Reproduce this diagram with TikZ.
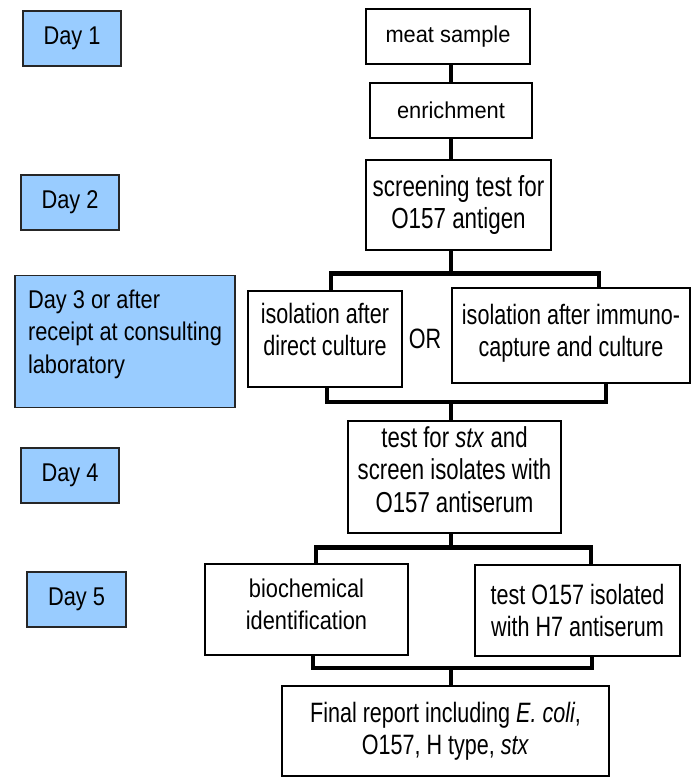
\documentclass[tikz,border=0pt]{standalone}
\usepackage{fontspec}
\setmainfont[FakeStretch=0.77]{Liberation Sans}
\newfontfamily\midfont[FakeStretch=0.85]{Liberation Sans}
\newfontfamily\widefont[FakeStretch=0.95]{Liberation Sans}
\usetikzlibrary{positioning}
\definecolor{dayblue}{rgb}{0.6,0.8,1.0}

\begin{document}
\begin{tikzpicture}[%
  x=0.03cm, y=-0.03cm,
  stage/.style={draw, line width=1.5pt, align=center, inner sep=0pt,
    font=\fontsize{23.9}{27.5}\selectfont},
  daybox/.style={stage, fill=dayblue, draw=black!85, line width=1.6pt,
    font=\midfont\fontsize{21.9}{27.7}\selectfont,
    minimum width=2.94cm, minimum height=1.65cm},
  bar/.style={line width=4.2pt, line join=miter},
]

  \useasboundingbox (0,0) rectangle (696,777);

  % day labels
  \node[daybox] (day1) at (72,38.5) {Day 1};
  \node[daybox] (day2) at (70,202.5) {Day 2};
  \node[daybox, align=left, minimum width=6.6cm, minimum height=3.96cm,
    text depth=0.6cm] (day3) at (125,341.5)
    {Day 3 or after\\receipt at consulting\\laboratory};
  \node[daybox] (day4) at (70,475.5) {Day 4};
  \node[daybox, minimum width=2.97cm] (day5) at (76.5,599.5) {Day 5};

  % procedure
  \node[stage, font=\widefont\fontsize{19.6}{27.5}\selectfont,
    minimum width=4.92cm, minimum height=1.65cm]
    (meat) at (448,36.5) {meat sample};
  \node[stage, font=\widefont\fontsize{19.6}{27.5}\selectfont,
    minimum width=4.86cm, minimum height=1.65cm]
    (enrich) at (451,110.5) {enrichment};
  \node[stage, font=\fontsize{24.8}{28}\selectfont,
    minimum width=5.55cm, minimum height=2.7cm]
    (screen) at (458.5,205) {screening test for\\O157 antigen};
  \node[stage, minimum width=4.62cm, minimum height=2.88cm, text depth=0.6cm]
    (isoL) at (325,339) {isolation after\\direct culture};
  \node[stage, draw=none] (or) at (425,339) {OR};
  \node[stage, minimum width=7.14cm, minimum height=2.85cm, text depth=0.3cm]
    (isoR) at (571,335.5) {isolation after immuno-\\capture and culture};
  \node[stage, font=\fontsize{24.6}{27.5}\selectfont,
    minimum width=6.39cm, minimum height=3.36cm, text depth=0.45cm]
    (stx) at (454.5,477) {test for \textit{stx} and\\screen isolates with\\O157 antiserum};
  \node[stage, font=\midfont\fontsize{21.9}{27.5}\selectfont,
    minimum width=6.09cm, minimum height=2.73cm, text depth=0.3cm]
    (bio) at (306.5,609.5) {biochemical\\identification};
  \node[stage, minimum width=6.15cm, minimum height=2.73cm]
    (h7) at (577.5,610.5) {test O157 isolated\\with H7 antiserum};
  \node[stage, minimum width=9.81cm, minimum height=2.7cm]
    (final) at (445.5,731) {Final report including \textit{E. coli},\\O157, H type, \textit{stx}};

  % connectors
  \coordinate (stem) at (451,0);

  \draw[bar] (meat.south -| stem) -- (enrich.north -| stem);
  \draw[bar] (enrich.south -| stem) -- (screen.north -| stem);

  \draw[bar] (screen.south -| stem) -- ++(0,23) coordinate (j1);
  \draw[bar] (isoL.north -| 331,0) |- (j1) -| (isoR.north -| 599,0);

  \coordinate (j2) at (stem |- 0,402);
  \draw[bar] (isoL.south -| 327,0) |- (j2) -| (isoR.south -| 606,0);
  \draw[bar] (j2) -- (stx.north -| stem);

  \draw[bar] (stx.south -| stem) -- ++(0,14) coordinate (j3);
  \draw[bar] (bio.north -| 316,0) |- (j3) -| (h7.north -| 591,0);

  \coordinate (j4) at (stem |- 0,668);
  \draw[bar] (bio.south -| 313,0) |- (j4) -| (h7.south -| 592,0);
  \draw[bar] (j4) -- (final.north -| stem);

\end{tikzpicture}
\end{document}
